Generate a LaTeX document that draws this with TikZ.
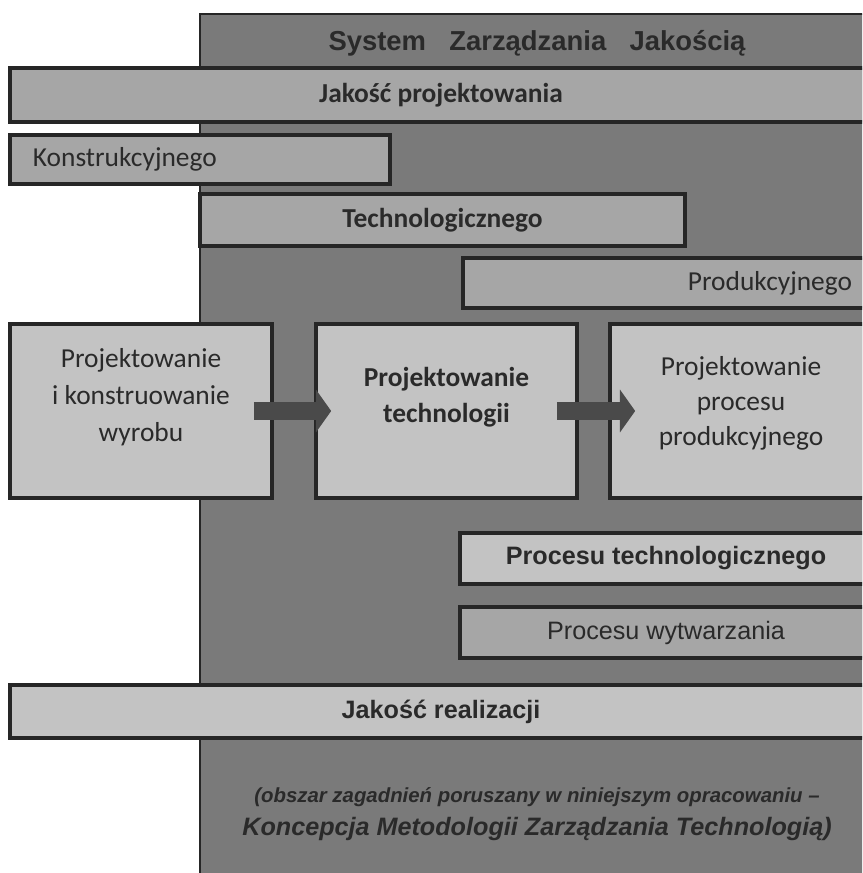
\documentclass[tikz,border=0pt]{standalone}
\usepackage{fontspec}
\setmainfont{Carlito}
\newfontfamily\arialfont{Liberation Sans}
\usetikzlibrary{arrows.meta}
\definecolor{bgdark}{HTML}{7A7A7A}
\definecolor{barmid}{HTML}{A6A6A6}
\definecolor{barlight}{HTML}{C3C3C3}
\definecolor{edge}{HTML}{262626}
\definecolor{ink}{HTML}{2A2A2A}
\definecolor{arrowfill}{HTML}{4A4A4A}
\tikzset{
    bar/.style={draw=edge, line width=2.6pt, text=ink, inner sep=0pt},
    mid bar/.style={bar, fill=barmid},
    light bar/.style={bar, fill=barlight},
    boxsize/.style 2 args={minimum width=#1*0.025cm, minimum height=#2*0.025cm},
    calibri/.style={font=\fontsize{19.5}{26}\selectfont},
    calibri bold/.style={font=\fontsize{19.5}{26}\selectfont\bfseries},
    arial/.style={font=\arialfont\fontsize{17.9}{22}\selectfont},
    arial bold/.style={font=\arialfont\fontsize{17.9}{22}\selectfont\bfseries},
    stage/.style={light bar, align=center, text depth=0.8cm},
    blockarr/.style={arrowfill, line width=0.45cm, -{Triangle[length=0.38cm, width=1.05cm]}},
}

\begin{document}
\begin{tikzpicture}[x=0.025cm, y=-0.025cm]
    \useasboundingbox (0,0) rectangle (862,873);
    \clip (0,0) rectangle (862,873);
    % quality system area
    \draw[fill=bgdark, draw=edge, line width=1.5pt] (200,14) rectangle (890,890);
    \node[text=ink, font=\arialfont\fontsize{19.5}{24}\selectfont\bfseries] (qms) at (537,43)
        {System\hspace{0.85em}Zarządzania\hspace{0.85em}Jakością};

    % design quality
    \node[mid bar, boxsize={862}{54}, calibri bold] (design) at (441,95) {Jakość projektowania};
    \node[mid bar, boxsize={380}{49}, calibri, text width=8.35cm, inner xsep=0.575cm, align=left]
        (constr) at (200,159.5) {Konstrukcyjnego};
    \node[mid bar, boxsize={485}{52}, calibri bold] (techn) at (442.5,220) {Technologicznego};
    \node[mid bar, boxsize={409}{50}, calibri, text width=9.225cm, inner xsep=0.5cm, align=right]
        (prod) at (667.5,283) {Produkcyjnego};

    % design stages
    \node[stage, boxsize={262}{174}, calibri] (product) at (141,411)
        {Projektowanie\\i konstruowanie\\wyrobu};
    \node[stage, boxsize={261}{174}, calibri bold] (technology) at (446.5,411)
        {Projektowanie\\technologii};
    \node[stage, boxsize={262}{174}, calibri, text depth=0.5cm, font=\fontsize{19.5}{25}\selectfont] (process) at (741,411)
        {Projektowanie\\procesu\\produkcyjnego};
    \draw[blockarr] ([xshift=-0.5cm]product.east) -- ([xshift=0.425cm]technology.west);
    \draw[blockarr] ([xshift=-0.55cm]technology.east) -- ([xshift=0.675cm]process.west);

    % processes
    \node[light bar, boxsize={412}{51}, arial bold] (proctech) at (666,558.5) {Procesu technologicznego};
    \node[mid bar, boxsize={412}{51}, arial] (procmake) at (666,632.5) {Procesu wytwarzania};

    % realisation quality
    \node[light bar, boxsize={862}{53}, arial bold] (realis) at (441,711.5) {Jakość realizacji};

    \node[text=ink, align=center, font=\arialfont\fontsize{17.9}{23.5}\selectfont\bfseries\itshape] (scope) at (537,814)
        {{\fontsize{14.5}{23.5}\selectfont (obszar zagadnień poruszany w niniejszym opracowaniu –}\\
         Koncepcja Metodologii Zarządzania Technologią)};
\end{tikzpicture}
\end{document}
